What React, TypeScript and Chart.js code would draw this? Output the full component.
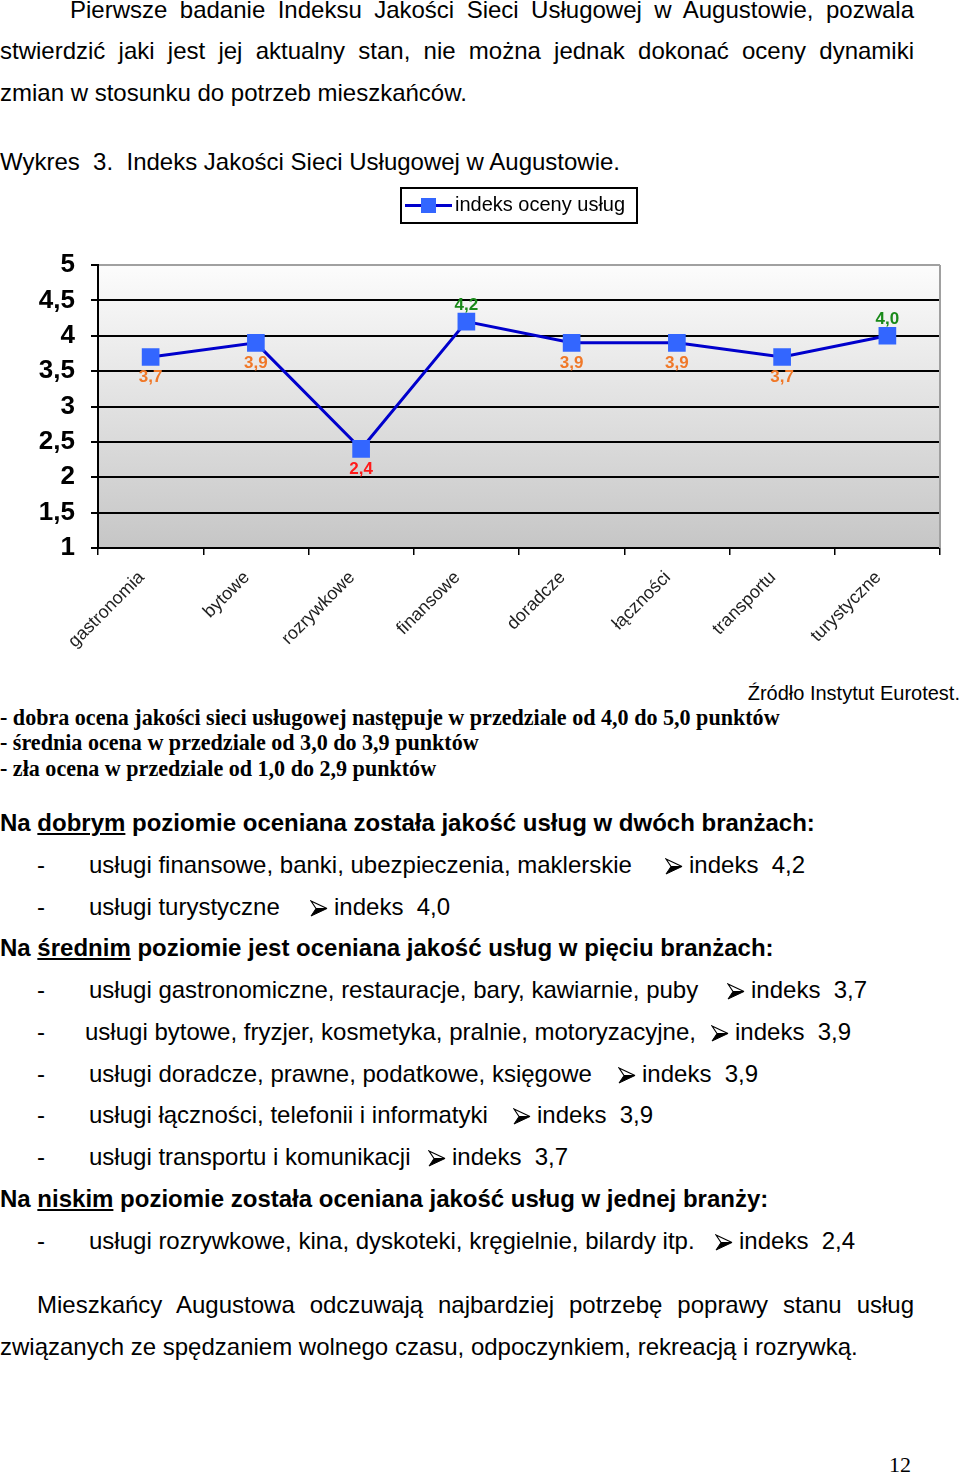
import React, { useEffect, useRef } from "react";
import { Chart, registerables } from "chart.js";

Chart.register(...registerables);

const categories = [
  "gastronomia",
  "bytowe",
  "rozrywkowe",
  "finansowe",
  "doradcze",
  "łączności",
  "transportu",
  "turystyczne",
];
const indexValues = [3.7, 3.9, 2.4, 4.2, 3.9, 3.9, 3.7, 4.0];
const seriesName = "indeks oceny usług";
const yMin = 1;
const yMax = 5;
const yStep = 0.5;

const SANS = '"Liberation Sans", Arial, Helvetica, sans-serif';
const SERIF = '"Liberation Serif", "Times New Roman", serif';

const fmt = (v: number, digits?: number) =>
  (digits !== undefined ? v.toFixed(digits) : String(v)).replace(".", ",");

const LINE_COLOR = "#0000cc";
const MARKER_COLOR = "#3366ff";

const bgPlugin = {
  id: "bgGradient",
  beforeDraw(chart: any) {
    const { ctx, chartArea } = chart;
    if (!chartArea) return;
    const { left, top, right, bottom } = chartArea;
    ctx.save();
    const g = ctx.createLinearGradient(0, top, 0, bottom);
    g.addColorStop(0, "#fcfcfc");
    g.addColorStop(1, "#c6c6c6");
    ctx.fillStyle = g;
    ctx.fillRect(left, top, right - left, bottom - top);
    ctx.restore();
  },
  afterDraw(chart: any) {
    const { ctx, chartArea } = chart;
    const { top, right, bottom } = chartArea;
    ctx.save();
    ctx.strokeStyle = "#a0a0a0";
    ctx.lineWidth = 2;
    ctx.beginPath();
    ctx.moveTo(right, top);
    ctx.lineTo(right, bottom);
    ctx.stroke();
    ctx.restore();
  },
};

const labelPlugin = {
  id: "valueLabels",
  afterDatasetsDraw(chart: any) {
    const { ctx } = chart;
    const meta = chart.getDatasetMeta(0);
    ctx.save();
    ctx.font = `bold 17px ${SANS}`;
    ctx.textAlign = "center";
    ctx.textBaseline = "middle";
    meta.data.forEach((pt: any, i: number) => {
      const v = indexValues[i];
      const color = v >= 4 ? "#1a8a1a" : v < 3 ? "#ff1a1a" : "#f07828";
      const above = v >= 4;
      ctx.fillStyle = color;
      ctx.fillText(fmt(v, 1), pt.x, above ? pt.y - 16 : pt.y + 20);
    });
    ctx.restore();
  },
};

const legendPlugin = {
  id: "boxLegend",
  afterDraw(chart: any) {
    const { ctx, chartArea } = chart;
    const cx = (chartArea.left + chartArea.right) / 2;
    const w = 236;
    const h = 35;
    const lx = cx - w / 2;
    const ty = chartArea.top - 77;
    const my = ty + h / 2;
    ctx.save();
    ctx.fillStyle = "#fff";
    ctx.fillRect(lx, ty, w, h);
    ctx.strokeStyle = "#000";
    ctx.lineWidth = 2;
    ctx.strokeRect(lx, ty, w, h);
    ctx.strokeStyle = LINE_COLOR;
    ctx.lineWidth = 3;
    ctx.beginPath();
    ctx.moveTo(lx + 4, my);
    ctx.lineTo(lx + 51, my);
    ctx.stroke();
    ctx.fillStyle = MARKER_COLOR;
    ctx.fillRect(lx + 20, my - 7.5, 15, 15);
    ctx.fillStyle = "#000";
    ctx.font = `20px ${SANS}`;
    ctx.textAlign = "left";
    ctx.textBaseline = "middle";
    ctx.fillText(seriesName, lx + 54, my);
    ctx.restore();
  },
};

function IndexChart() {
  const ref = useRef<HTMLCanvasElement | null>(null);
  useEffect(() => {
    if (!ref.current) return;
    const chart = new Chart(ref.current, {
      type: "line",
      data: {
        labels: categories,
        datasets: [
          {
            label: seriesName,
            data: indexValues,
            borderColor: LINE_COLOR,
            borderWidth: 3,
            pointStyle: "rect",
            pointRadius: 12.5,
            pointHoverRadius: 12.5,
            pointBackgroundColor: MARKER_COLOR,
            pointBorderColor: MARKER_COLOR,
            pointBorderWidth: 0,
            tension: 0,
            fill: false,
          },
        ],
      },
      options: {
        responsive: false,
        animation: false,
        events: [],
        layout: { padding: { top: 85, right: 20, left: 0, bottom: 0 } },
        plugins: {
          legend: { display: false },
          tooltip: { enabled: false },
          title: { display: false },
        },
        scales: {
          x: {
            type: "category",
            offset: true,
            grid: {
              offset: true,
              drawOnChartArea: false,
              drawTicks: true,
              tickLength: 7,
              color: "#000",
              lineWidth: 1.5,
            },
            border: { color: "#000", width: 2 },
            ticks: {
              autoSkip: false,
              maxRotation: 45,
              minRotation: 45,
              padding: 12,
              labelOffset: -9,
              color: "#222",
              font: { family: SANS, size: 18 },
            },
            afterFit: (s: any) => {
              s.height = 112;
            },
          },
          y: {
            min: yMin,
            max: yMax,
            ticks: {
              stepSize: yStep,
              padding: 16,
              color: "#000",
              font: { family: SANS, size: 26, weight: "bold" },
              callback: (v: any) => fmt(Number(v)),
            },
            grid: {
              color: (c: any) => (c.tick && c.tick.value === yMax ? "#a0a0a0" : "#000"),
              tickColor: "#000",
              lineWidth: 2,
              tickLength: 7,
              drawTicks: true,
            },
            border: { color: "#000", width: 2 },
            afterFit: (s: any) => {
              s.width = 98;
            },
          },
        },
      },
      plugins: [bgPlugin, labelPlugin, legendPlugin],
    } as any);
    return () => chart.destroy();
  }, []);
  return (
    <canvas
      ref={ref}
      width={960}
      height={480}
      style={{ position: "absolute", left: 0, top: 180, width: 960, height: 480 }}
    />
  );
}

type LProps = {
  y: number;
  x?: number;
  w?: number;
  j?: boolean;
  size?: number;
  bold?: boolean;
  serif?: boolean;
  style?: React.CSSProperties;
  children?: React.ReactNode;
};

function L({ y, x = 0, w, j, size = 24, bold, serif, style, children }: LProps) {
  return (
    <div
      style={{
        position: "absolute",
        left: x,
        top: y - 16,
        width: w,
        height: 32,
        lineHeight: "32px",
        fontSize: size,
        fontFamily: serif ? SERIF : SANS,
        fontWeight: bold ? "bold" : "normal",
        whiteSpace: j ? "normal" : "pre",
        textAlign: j ? "justify" : "left",
        textAlignLast: j ? "justify" : "auto",
        color: "#000",
        ...style,
      }}
    >
      {children}
    </div>
  );
}

function Arrow({ x, y }: { x: number; y: number }) {
  return (
    <svg
      width={18}
      height={17}
      viewBox="0 0 18 17"
      style={{ position: "absolute", left: x, top: y - 8 }}
    >
      <polygon points="1,1 17,8.5 6,8.5" fill="#fff" stroke="#000" strokeWidth={1.2} strokeLinejoin="miter" />
      <polygon points="6,8.5 17,8.5 1,16" fill="#000" stroke="#000" strokeWidth={1} />
    </svg>
  );
}

type Item = { y: number; tx: number; text: string; ax: number; val: string };

const items: Item[] = [
  { y: 865, tx: 89, text: "usługi finansowe, banki, ubezpieczenia, maklerskie", ax: 665, val: "4,2" },
  { y: 907, tx: 89, text: "usługi turystyczne", ax: 310, val: "4,0" },
  { y: 990, tx: 89, text: "usługi gastronomiczne, restauracje, bary, kawiarnie, puby", ax: 727, val: "3,7" },
  { y: 1032, tx: 85, text: "usługi bytowe, fryzjer, kosmetyka, pralnie, motoryzacyjne,", ax: 711, val: "3,9" },
  { y: 1074, tx: 89, text: "usługi doradcze, prawne, podatkowe, księgowe", ax: 618, val: "3,9" },
  { y: 1115, tx: 89, text: "usługi łączności, telefonii i informatyki", ax: 513, val: "3,9" },
  { y: 1157, tx: 89, text: "usługi transportu i komunikacji", ax: 428, val: "3,7" },
  { y: 1241, tx: 89, text: "usługi rozrywkowe, kina, dyskoteki, kręgielnie, bilardy itp.", ax: 715, val: "2,4" },
];

function Bullet({ it }: { it: Item }) {
  return (
    <>
      <L y={it.y} x={37}>-</L>
      <L y={it.y} x={it.tx}>{it.text}</L>
      <Arrow x={it.ax} y={it.y + 1} />
      <L y={it.y} x={it.ax + 24}>{"indeks  " + it.val}</L>
    </>
  );
}

const serifLine: React.CSSProperties = { transform: "scaleX(0.96)", transformOrigin: "left center" };

export default function App() {
  return (
    <div
      style={{
        position: "absolute",
        left: 0,
        top: 0,
        width: 960,
        height: 1475,
        overflow: "hidden",
        background: "#fff",
      }}
    >
      <L y={10} x={70} w={844} j>
        Pierwsze badanie Indeksu Jakości Sieci Usługowej w Augustowie, pozwala
      </L>
      <L y={51} x={0} w={914} j>
        stwierdzić jaki jest jej aktualny stan, nie można jednak dokonać oceny dynamiki
      </L>
      <L y={93} x={0}>zmian w stosunku do potrzeb mieszkańców.</L>
      <L y={162} x={0}>{"Wykres  3.  Indeks Jakości Sieci Usługowej w Augustowie."}</L>

      <IndexChart />

      <L y={693} x={660} w={300} size={20} style={{ textAlign: "right" }}>
        Źródło Instytut Eurotest.
      </L>
      <L y={718} x={0} serif bold size={23} style={serifLine}>
        - dobra ocena jakości sieci usługowej następuje w przedziale od 4,0 do 5,0 punktów
      </L>
      <L y={743} x={0} serif bold size={23} style={serifLine}>
        - średnia ocena w przedziale od 3,0 do 3,9 punktów
      </L>
      <L y={769} x={0} serif bold size={23} style={serifLine}>
        - zła ocena w przedziale od 1,0 do 2,9 punktów
      </L>

      <L y={823} x={0} bold size={24}>
        Na <u>dobrym</u> poziomie oceniana została jakość usług w dwóch branżach:
      </L>
      <Bullet it={items[0]} />
      <Bullet it={items[1]} />

      <L y={948} x={0} bold size={24}>
        Na <u>średnim</u> poziomie jest oceniana jakość usług w pięciu branżach:
      </L>
      <Bullet it={items[2]} />
      <Bullet it={items[3]} />
      <Bullet it={items[4]} />
      <Bullet it={items[5]} />
      <Bullet it={items[6]} />

      <L y={1199} x={0} bold size={24}>
        Na <u>niskim</u> poziomie została oceniana jakość usług w jednej branży:
      </L>
      <Bullet it={items[7]} />

      <L y={1305} x={37} w={877} j>
        Mieszkańcy Augustowa odczuwają najbardziej potrzebę poprawy stanu usług
      </L>
      <L y={1347} x={0}>
        związanych ze spędzaniem wolnego czasu, odpoczynkiem, rekreacją i rozrywką.
      </L>

      <L y={1465} x={889} serif size={22}>12</L>
    </div>
  );
}
